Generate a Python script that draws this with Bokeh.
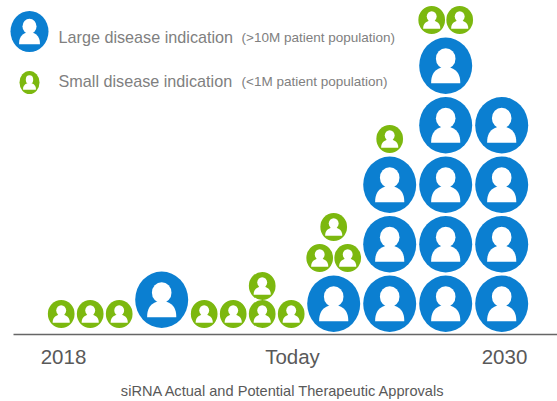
from bokeh.plotting import figure
from bokeh.models import FixedTicker, ColumnDataSource
from bokeh.embed import file_html
from bokeh.resources import INLINE
from bokeh.core.properties import value
import math

# one entry per group along the timeline
large_counts = [0, 0, 0, 1, 0, 0, 0, 0, 1, 3, 5, 4]
small_counts = [1, 1, 1, 0, 1, 1, 2, 1, 3, 1, 2, 0]
tick_labels = ["2018", "Today", "2030"]
chart_title = "siRNA Actual and Potential Therapeutic Approvals"
legend_main = ["Large disease indication", "Small disease indication"]
legend_note = ["(>10M patient population)", "(<1M patient population)"]

BLUE, GREEN = "#0b7fd1", "#7cb80f"
L_W, L_H, S_W, S_H = 53, 56.5, 26.7, 28
L_STEP, S_STEP = 59.5, 28
W, H, AXIS_Y, LEFT = 557, 401, 334, 9

p = figure(width=W, height=H, x_range=(LEFT, W), y_range=(AXIS_Y, 0),
           output_backend="svg", toolbar_location=None,
           min_border_left=LEFT, min_border_right=0, min_border_top=0,
           min_border_bottom=H - AXIS_Y)
p.outline_line_color = None
p.grid.visible = False
p.yaxis.visible = False
p.background_fill_color = "white"


def add_icon(store, cx, cy, w, h, body=0.275):
    store["cx"].append(cx); store["cy"].append(cy)
    store["w"].append(w); store["h"].append(h)
    store["hx"].append(cx); store["hy"].append(cy - h * 0.125)
    store["hw"].append(w * 0.37); store["hh"].append(h * 0.37)
    # shoulders: flat bottom, rounded top
    bw, top, bot = w * body, cy + h * 0.02, cy + h * 0.31
    xs, ys = [], []
    for i in range(25):
        a = math.pi * i / 24
        xs.append(cx - bw * math.cos(a))
        ys.append(bot - (bot - top) * math.sin(a) ** 0.8)
    store["bx"].append(xs); store["by"].append(ys)


def empty():
    return dict(cx=[], cy=[], w=[], h=[], hx=[], hy=[], hw=[], hh=[], bx=[], by=[])


large, small = empty(), empty()
SMALL_BODY = 0.32

# walk along the timeline, each group as wide as its widest icon
cursor = 46.2
for i, (nl, ns) in enumerate(zip(large_counts, small_counts)):
    slot = 56 if nl else 29
    cx = cursor + slot / 2
    if nl:
        # the single early icon sits on the same line as the small ones
        bottom = 327.5 if nl == 1 and ns == 0 else 331.5
        for k in range(nl):
            add_icon(large, cx, bottom - L_H / 2 - k * L_STEP, L_W, L_H)
        y = bottom - (nl - 1) * L_STEP - L_H - 3.5 - S_H / 2
        left = ns
        while left > 0:
            row = min(left, 2)
            for j in range(row):
                add_icon(small, cx + (j - (row - 1) / 2) * 28, y, S_W, S_H, SMALL_BODY)
            left -= row
            y -= 31
    else:
        for k in range(ns):
            add_icon(small, cx, 327.5 - S_H / 2 - k * S_STEP, S_W, S_H, SMALL_BODY)
    cursor += slot

# legend icons
add_icon(large, 29, 31, 38, 41)
add_icon(small, 29, 82, 20, 23, SMALL_BODY)

for store, colour in ((large, BLUE), (small, GREEN)):
    src = ColumnDataSource(store)
    p.ellipse("cx", "cy", "w", "h", source=src, fill_color=colour, line_color=None)
    p.ellipse("hx", "hy", "hw", "hh", source=src, fill_color="white", line_color=None)
    p.patches("bx", "by", source=src, fill_color="white", line_color=None)

# legend texts
main_y = [36, 80]
for t, n, y in zip(legend_main, legend_note, main_y):
    p.text([58], [y], text=[t], text_font=value("Liberation Sans"), text_font_size="16.2px",
           text_color="#808080", text_baseline="middle")
    p.text([241], [y + 1], text=[n], text_font=value("Liberation Sans"), text_font_size="13.5px",
           text_color="#808080", text_baseline="middle")

# timeline axis
ax = p.xaxis[0]
tick_pos = [63, 292, 504]
ax.bounds = (13, W)
ax.ticker = FixedTicker(ticks=tick_pos)
ax.major_label_overrides = dict(zip(tick_pos, tick_labels))
ax.major_tick_line_color = None
ax.minor_tick_line_color = None
ax.axis_line_color = "#666666"
ax.axis_line_width = 1.5
ax.major_label_text_font = "Liberation Sans"
ax.major_label_text_font_size = "20.5px"
ax.major_label_text_color = "#595959"
ax.major_label_standoff = 4
ax.axis_label = chart_title
ax.axis_label_text_font = "Liberation Sans"
ax.axis_label_text_font_style = "normal"
ax.axis_label_text_font_size = "14.6px"
ax.axis_label_text_color = "#595959"
ax.axis_label_standoff = 12

open("out.html", "w").write(file_html(p, INLINE))
